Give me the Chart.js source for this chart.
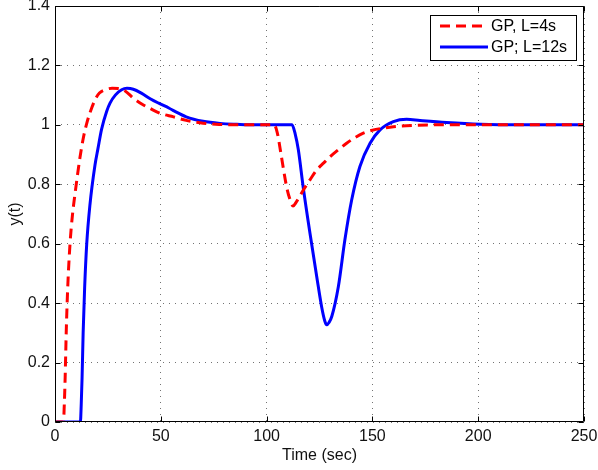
<!DOCTYPE html>
<html>
<head>
<meta charset="utf-8">
<script src="https://cdn.jsdelivr.net/npm/chart.js@4.4.1/dist/chart.umd.min.js"></script>
<style>
  body { margin: 0; background: #fff; }
  #caja { width: 598px; height: 470px; }
</style>
</head>
<body>
<div id="caja"><canvas id="grafico" width="598" height="470"></canvas></div>
<script>
// respuesta con L=4s (rojo, discontinua)
const tiempoL4 = [0, 4, 4.4, 4.8, 5.3, 6.0, 7.1, 8.3, 9.5, 11.8, 13.5, 15, 16.5, 18.9, 21, 23.6, 27, 30, 33, 37, 41, 45, 50, 56, 62, 68.5, 76, 84, 103.5,
  105, 107, 109.5, 111, 112.5, 114, 117.3, 120.5, 123.7, 127, 130, 134, 137.8, 141.5, 145.7, 150, 155, 160, 166, 180, 250];
const salidaL4 = [0, 0, 0.06, 0.15, 0.3, 0.45, 0.6, 0.7, 0.77, 0.89, 0.96, 1.005, 1.04, 1.084, 1.107, 1.118, 1.123, 1.122, 1.115, 1.09, 1.07, 1.055, 1.038, 1.027, 1.015, 1.007, 1.002, 1.0, 1.0,
  0.975, 0.893, 0.79, 0.75, 0.727, 0.74, 0.78, 0.815, 0.848, 0.872, 0.893, 0.917, 0.938, 0.956, 0.972, 0.982, 0.989, 0.994, 0.997, 1.0, 1.0];

// respuesta con L=12s (azul, continua)
const tiempoL12 = [0, 12, 12.4, 12.8, 13.3, 14, 15, 16.5, 18.9, 20.3, 22, 24.4, 26, 28.5, 31.5, 34, 37, 41, 45, 49, 54, 56.5, 62, 70, 78, 86, 95, 112,
  113.5, 115, 117.3, 120.5, 123.7, 126, 127.5, 128.4, 129.5, 130.8, 133.9, 137, 140.2, 144.1, 148.9, 153.6, 159.9, 166.2, 172.5, 185, 201, 220, 250];
const salidaL12 = [0, 0, 0.06, 0.15, 0.3, 0.45, 0.6, 0.73, 0.865, 0.92, 0.985, 1.045, 1.073, 1.1, 1.118, 1.123, 1.12, 1.106, 1.088, 1.073, 1.056, 1.046, 1.027, 1.012, 1.005, 1.002, 1.0, 1.0,
  0.97, 0.916, 0.79, 0.635, 0.489, 0.388, 0.34, 0.327, 0.335, 0.355, 0.455, 0.613, 0.747, 0.86, 0.938, 0.983, 1.011, 1.019, 1.015, 1.008, 1.002, 1.0, 1.0];

const ticksX = [0, 50, 100, 150, 200, 250];
const ticksY = [0, 0.2, 0.4, 0.6, 0.8, 1, 1.2, 1.4];
const etiquetas = ['GP, L=4s', 'GP; L=12s'];

const fuente = 'Liberation Sans';
const aPuntos = (xs, ys) => xs.map((t, i) => ({ x: t, y: ys[i] }));

// marco y marcas hacia dentro, como en MATLAB
const marco = {
  id: 'marco',
  afterDatasetsDraw(chart) {
    const { ctx, chartArea: a, scales: { x, y } } = chart;
    const l = Math.round(a.left) + 0.5, r = Math.round(a.right) - 0.5;
    const t = Math.round(a.top) + 0.5, b = Math.round(a.bottom) - 0.5;
    ctx.save();
    ctx.strokeStyle = '#000';
    ctx.lineWidth = 1;
    ctx.beginPath();
    ctx.rect(l, t, r - l, b - t);
    x.ticks.forEach(tk => {
      const px = Math.round(x.getPixelForValue(tk.value)) + 0.5;
      ctx.moveTo(px, b); ctx.lineTo(px, b - 5);
      ctx.moveTo(px, t); ctx.lineTo(px, t + 5);
    });
    y.ticks.forEach(tk => {
      const py = Math.round(y.getPixelForValue(tk.value)) + 0.5;
      ctx.moveTo(l, py); ctx.lineTo(l + 5, py);
      ctx.moveTo(r, py); ctx.lineTo(r - 5, py);
    });
    ctx.stroke();
    ctx.restore();
  }
};

// leyenda con recuadro arriba a la derecha
const leyenda = {
  id: 'leyenda',
  afterDraw(chart) {
    const { ctx } = chart;
    const x0 = 430.5, y0 = 15.5, w = 146, h = 45;
    ctx.save();
    ctx.fillStyle = '#fff';
    ctx.fillRect(x0, y0, w, h);
    ctx.strokeStyle = '#000';
    ctx.lineWidth = 1;
    ctx.strokeRect(x0, y0, w, h);
    ctx.font = `16px "${fuente}"`;
    ctx.textBaseline = 'middle';
    chart.data.datasets.forEach((ds, i) => {
      const yy = 26 + i * 21;
      ctx.strokeStyle = ds.borderColor;
      ctx.lineWidth = ds.borderWidth;
      ctx.setLineDash(ds.borderDash || []);
      ctx.beginPath();
      ctx.moveTo(440, yy);
      ctx.lineTo(488, yy);
      ctx.stroke();
      ctx.setLineDash([]);
      ctx.fillStyle = '#000';
      ctx.fillText(etiquetas[i], 491, yy + 1);
    });
    ctx.restore();
  }
};

const ctx = document.getElementById('grafico').getContext('2d');
new Chart(ctx, {
  type: 'line',
  data: {
    datasets: [{
      label: etiquetas[0],
      data: aPuntos(tiempoL4, salidaL4),
      borderColor: '#ff0000',
      borderWidth: 3,
      borderDash: [10, 6],
      pointRadius: 0,
      cubicInterpolationMode: 'monotone',
      fill: false
    }, {
      label: etiquetas[1],
      data: aPuntos(tiempoL12, salidaL12),
      borderColor: '#0000ff',
      borderWidth: 3,
      pointRadius: 0,
      cubicInterpolationMode: 'monotone',
      fill: false
    }]
  },
  options: {
    responsive: false,
    animation: false,
    layout: { padding: { left: 0, top: 6, right: 14, bottom: 0 } },
    plugins: { legend: { display: false }, tooltip: { enabled: false } },
    scales: {
      x: {
        type: 'linear',
        min: 0, max: 250,
        afterBuildTicks: s => { s.ticks = ticksX.map(v => ({ value: v })); },
        afterFit: s => { s.height = 48; s.paddingLeft = 0; s.paddingRight = 0; },
        grid: { color: 'rgba(0,0,0,0.55)', drawTicks: false },
        border: { display: false, dash: [1, 5] },
        ticks: { padding: 5, color: '#111', font: { family: fuente, size: 16 }, maxRotation: 0 },
        title: { display: true, text: 'Time (sec)', color: '#111', font: { family: fuente, size: 16 }, padding: { top: 0, bottom: 5 } }
      },
      y: {
        min: 0, max: 1.4,
        afterBuildTicks: s => { s.ticks = ticksY.map(v => ({ value: v })); },
        afterFit: s => { s.width = 55; s.paddingTop = 0; s.paddingBottom = 0; },
        grid: { color: 'rgba(0,0,0,0.55)', drawTicks: false },
        border: { display: false, dash: [1, 5] },
        ticks: {
          padding: 5, color: '#111', font: { family: fuente, size: 16 },
          callback: v => String(Math.round(v * 10) / 10)
        },
        title: { display: true, text: 'y(t)', color: '#111', font: { family: fuente, size: 16 }, padding: { top: 6, bottom: 0 } }
      }
    }
  },
  plugins: [marco, leyenda]
});
</script>
</body>
</html>
